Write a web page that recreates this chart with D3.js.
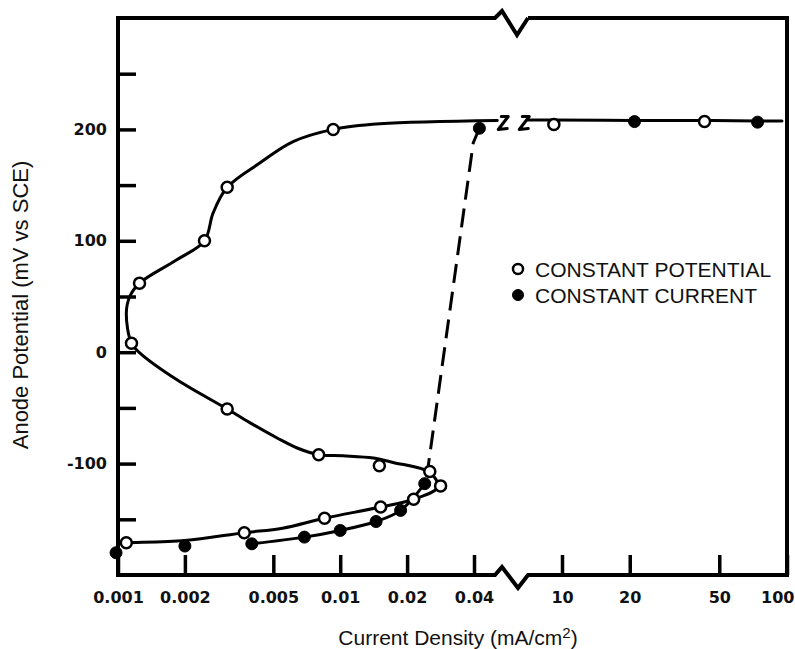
<!DOCTYPE html>
<html>
<head>
<meta charset="utf-8">
<script src="https://cdn.jsdelivr.net/npm/d3@7/dist/d3.min.js"></script>
<style>
  html, body { margin: 0; padding: 0; background: #fff; }
  svg { display: block; }
  .tick-label { font-family: "DejaVu Sans", sans-serif; font-weight: bold; font-size: 16px; fill: #111; }
  .title { font-family: "Liberation Sans", Arial, sans-serif; font-size: 21px; fill: #111; }
</style>
</head>
<body>
<script>
// Anodic polarization: potential (mV vs SCE) against current density (mA/cm2),
// with a broken logarithmic current axis (0.001–0.04 | 10–100).

// ---- data ----
const lowTicks = [0.001, 0.002, 0.005, 0.01, 0.02, 0.04];
const lowTickLabels = ["0.001", "0.002", "0.005", "0.01", "0.02", "0.04"];
const highTicks = [10, 20, 50, 100];
const highTickLabels = ["10", "20", "50", "100"];
const potentialTicks = [-150, -100, -50, 0, 50, 100, 150, 200, 250];
const potentialLabels = [-100, 0, 100, 200];

// constant potential measurements (open circles)
const potentialLow = [
  [0.00109, -171], [0.0037, -162], [0.0085, -149], [0.0152, -139], [0.0214, -132],
  [0.0283, -120], [0.0253, -107], [0.015, -102], [0.008, -92], [0.0031, -51],
  [0.00115, 8], [0.00125, 62], [0.00245, 100], [0.0031, 148], [0.0093, 200]
];
const potentialHigh = [[9.2, 204.5], [43, 207]];

// constant current measurements (filled circles)
const currentLow = [
  [0.00098, -180], [0.002, -174], [0.004, -172], [0.0069, -166], [0.01, -160],
  [0.0145, -152], [0.0187, -142], [0.024, -118], [0.0423, 201]
];
const currentHigh = [[21, 207], [74, 206.5]];

// hand-drawn curves
const potentialCurve = [
  [0.001, -171.5], [0.00109, -171], [0.002, -169], [0.0037, -162], [0.0055, -158],
  [0.0085, -149], [0.0152, -139], [0.0214, -132], [0.0275, -121], [0.0253, -108],
  [0.0173, -99], [0.0141, -95], [0.0103, -93], [0.008, -92], [0.0064, -86],
  [0.0052, -77], [0.0039, -63], [0.0031, -51], [0.00185, -25], [0.00126, -1],
  [0.00115, 8], [0.00109, 35], [0.00113, 50], [0.00125, 62], [0.00184, 83],
  [0.00245, 100], [0.00268, 125], [0.0031, 148], [0.00436, 170], [0.00614, 189],
  [0.0093, 200], [0.0151, 205], [0.0509, 208]
];
const currentCurve = [
  [0.004, -172], [0.0069, -166], [0.01, -160], [0.0145, -152], [0.0187, -142], [0.024, -118]
];
const transitionCurve = [[0.0245, -112], [0.0397, 188], [0.0423, 201]];
const plateauCurve = [[7.06, 208.5], [9.2, 208.5], [21, 208], [43, 208], [74, 207.5], [95, 207.5]];

const legendItems = [
  { label: "CONSTANT POTENTIAL", filled: false },
  { label: "CONSTANT CURRENT", filled: true }
];

// ---- layout ----
const W = 795, H = 649;
const plotL = 118, plotR = 787, plotT = 18, plotB = 575;
const breakL = 495, breakR = 528;

const svg = d3.select("body").append("svg").attr("width", W).attr("height", H);

const xLow = d3.scaleLog().domain([0.001, 0.04]).range([plotL, 474]);
const xHigh = d3.scaleLog().domain([10, 100]).range([562, plotR]);
const y = d3.scaleLinear().domain([-200, 300]).range([plotB, plotT]);

// ---- frame with axis breaks ----
const framePath = [
  [breakR, plotT], [plotR, plotT], [plotR, plotB], [breakR, plotB],
  [518, plotB + 13], [502, plotB - 8], [breakL, plotB], [plotL, plotB],
  [plotL, plotT], [breakL, plotT], [502, plotT - 7], [517, plotT + 17], [breakR, plotT]
];
svg.append("path")
  .attr("d", d3.line()(framePath))
  .attr("fill", "none").attr("stroke", "#000").attr("stroke-width", 4)
  .attr("stroke-linejoin", "miter");

// ---- axes ----
function styleAxis(g) {
  g.select(".domain").remove();
  g.selectAll(".tick line").attr("stroke", "#000").attr("stroke-width", 3.5);
  g.selectAll(".tick text").attr("class", "tick-label").attr("fill", null);
}

svg.append("g")
  .attr("transform", `translate(0,${plotB})`)
  .call(d3.axisBottom(xLow).tickValues(lowTicks).tickSize(-20).tickPadding(17)
    .tickFormat((d, i) => lowTickLabels[i]))
  .call(styleAxis);

const highAxis = svg.append("g")
  .attr("transform", `translate(0,${plotB})`)
  .call(d3.axisBottom(xHigh).tickValues(highTicks).tickSize(-20).tickPadding(17)
    .tickFormat((d, i) => highTickLabels[i]))
  .call(styleAxis);
// keep the last label inside the page
highAxis.selectAll(".tick").filter(d => d === 100).select("text")
  .attr("text-anchor", "end").attr("x", W - xHigh(100) - 1);

svg.append("g")
  .attr("transform", `translate(${plotL},0)`)
  .call(d3.axisLeft(y).tickValues(potentialTicks).tickSize(-18).tickPadding(11)
    .tickFormat(d => potentialLabels.includes(d) ? String(d) : ""))
  .call(styleAxis);

// ---- curves ----
const lineLow = d3.line().x(d => xLow(d[0])).y(d => y(d[1])).curve(d3.curveCatmullRom.alpha(0.5));
const lineHigh = d3.line().x(d => xHigh(d[0])).y(d => y(d[1])).curve(d3.curveCatmullRom.alpha(0.5));

const curves = svg.append("g").attr("fill", "none").attr("stroke", "#000")
  .attr("stroke-width", 3).attr("stroke-linecap", "round").attr("stroke-linejoin", "round");
curves.append("path").attr("d", lineLow(potentialCurve));
curves.append("path").attr("d", lineLow(currentCurve));
curves.append("path").attr("d", lineHigh(plateauCurve));
curves.append("path").attr("d", d3.line().x(d => xLow(d[0])).y(d => y(d[1]))(transitionCurve))
  .attr("stroke-dasharray", "19 9").attr("stroke-linecap", "butt");

// ---- "Z" break marks on the plateau line ----
const zY = y(208);
const zStarts = [xLow(0.0509) + 1, xLow(0.0509) + 22];
svg.append("g").selectAll("path").data(zStarts).join("path")
  .attr("d", x0 => `M${x0 + 3},${zY - 4} L${x0 + 10},${zY - 4} L${x0},${zY + 9} L${x0 + 9},${zY + 8}`)
  .attr("fill", "none").attr("stroke", "#000").attr("stroke-width", 3)
  .attr("stroke-linejoin", "round").attr("stroke-linecap", "round");

// ---- markers ----
function drawMarkers(data, scale, filled) {
  svg.append("g").selectAll("circle").data(data).join("circle")
    .attr("cx", d => scale(d[0])).attr("cy", d => y(d[1]))
    .attr("r", filled ? 6 : 5.5)
    .attr("fill", filled ? "#000" : "#fff")
    .attr("stroke", "#000").attr("stroke-width", filled ? 1 : 2.5);
}
drawMarkers(potentialLow, xLow, false);
drawMarkers(potentialHigh, xHigh, false);
drawMarkers(currentLow, xLow, true);
drawMarkers(currentHigh, xHigh, true);

// ---- legend ----
const legend = svg.append("g").attr("transform", "translate(518,269)");
legendItems.forEach((item, i) => {
  const g = legend.append("g").attr("transform", `translate(0,${i * 26})`);
  g.append("circle").attr("r", item.filled ? 5.5 : 5)
    .attr("fill", item.filled ? "#000" : "#fff")
    .attr("stroke", "#000").attr("stroke-width", item.filled ? 1 : 2.5);
  g.append("text").attr("class", "title").attr("x", 17).attr("y", 8).text(item.label);
});

// ---- axis titles ----
const xTitle = svg.append("text").attr("class", "title")
  .attr("x", 458).attr("y", 645).attr("text-anchor", "middle");
xTitle.append("tspan").text("Current Density (mA/cm");
xTitle.append("tspan").attr("font-size", "15px").attr("dy", -7).text("2");
xTitle.append("tspan").attr("dy", 7).text(")");

svg.append("text").attr("class", "title")
  .attr("transform", "translate(28,305) rotate(-90)")
  .attr("text-anchor", "middle")
  .style("font-size", "22px")
  .text("Anode Potential (mV vs SCE)");
</script>
</body>
</html>
